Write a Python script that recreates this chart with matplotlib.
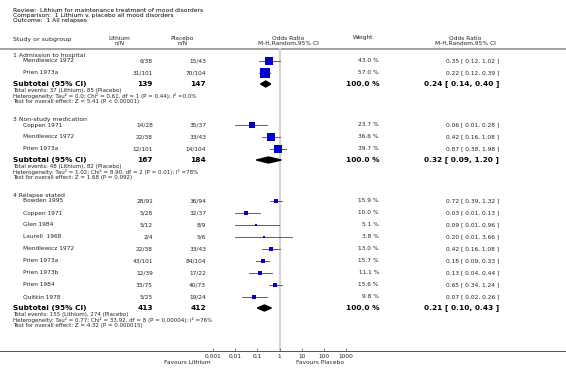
import numpy as np
import matplotlib
matplotlib.use("Agg")
import matplotlib.pyplot as plt
from matplotlib.patches import Polygon

# ==============================================================================
# Data
# ==============================================================================
title_lines = [
    "Review:  Lithium for maintenance treatment of mood disorders",
    "Comparison:  1 Lithium v. placebo all mood disorders",
    "Outcome:  1 All relapses",
]

group_names = ["1 Admission to hospital", "3 Non-study medication", "4 Relapse stated"]

study_names = ["Mendlewicz 1972", "Prien 1973a",
               "Coppen 1971", "Mendlewicz 1972", "Prien 1973a",
               "Bowden 1995", "Coppen 1971", "Glen 1984", "Laurell  1968",
               "Mendlewicz 1972", "Prien 1973a", "Prien 1973b", "Prien 1984",
               "Quitkin 1978"]
study_group = [0, 0, 1, 1, 1, 2, 2, 2, 2, 2, 2, 2, 2, 2]
lithium_nN = ["6/38", "31/101", "14/28", "22/38", "12/101", "28/91", "5/28",
              "5/12", "2/4", "22/38", "43/101", "12/39", "33/75", "5/25"]
placebo_nN = ["15/43", "70/104", "35/37", "33/43", "14/104", "36/94", "32/37",
              "8/9", "5/6", "33/43", "84/104", "17/22", "40/73", "19/24"]
weight = [43.0, 57.0, 23.7, 36.6, 39.7, 15.9, 10.0, 5.1, 3.8, 13.0, 15.7, 11.1, 15.6, 9.8]
odds = [0.35, 0.22, 0.06, 0.42, 0.87, 0.72, 0.03, 0.09, 0.20, 0.42, 0.18, 0.13, 0.65, 0.07]
ci_low = [0.12, 0.12, 0.01, 0.16, 0.38, 0.39, 0.01, 0.01, 0.01, 0.16, 0.09, 0.04, 0.34, 0.02]
ci_high = [1.02, 0.39, 0.28, 1.08, 1.98, 1.32, 0.13, 0.96, 3.66, 1.08, 0.33, 0.44, 1.24, 0.26]

sub_lithium_N = [139, 167, 413]
sub_placebo_N = [147, 184, 412]
sub_odds = [0.24, 0.32, 0.21]
sub_low = [0.14, 0.09, 0.10]
sub_high = [0.40, 1.20, 0.43]
sub_events = ["Total events: 37 (Lithium), 85 (Placebo)",
              "Total events: 48 (Lithium), 82 (Placebo)",
              "Total events: 155 (Lithium), 274 (Placebo)"]
sub_het = ["Heterogeneity: Tau\u00b2 = 0.0; Chi\u00b2 = 0.61, df = 1 (P = 0.44); I\u00b2 =0.0%",
           "Heterogeneity: Tau\u00b2 = 1.02; Chi\u00b2 = 8.90, df = 2 (P = 0.01); I\u00b2 =78%",
           "Heterogeneity: Tau\u00b2 = 0.77; Chi\u00b2 = 33.92, df = 8 (P = 0.00004); I\u00b2 =76%"]
sub_test = ["Test for overall effect: Z = 5.41 (P < 0.00001)",
            "Test for overall effect: Z = 1.68 (P = 0.092)",
            "Test for overall effect: Z = 4.32 (P = 0.000015)"]

axis_ticks = [0.001, 0.01, 0.1, 1, 10, 100, 1000]
axis_labels = ["0.001", "0.01", "0.1", "1", "10", "100", "1000"]

# ==============================================================================
# Layout (pixels)
# ==============================================================================
W, H = 566, 381
X_LEFT, X_STUDY = 13, 23
X_LITH, X_PLAC = 153, 206
X_WEIGHT, X_OR = 379, 499
PLOT_L, PLOT_R = 213, 346
AXIS_Y = 351
FS, FS_B, FS_NOTE = 4.2, 5.3, 4.0
TXT = "#222222"
BLUE = "#0000cc"

plt.rcParams["font.family"] = ["DejaVu Sans"]
fig = plt.figure(figsize=(W / 100, H / 100), dpi=100)
bg = fig.add_axes([0, 0, 1, 1])
bg.set_xlim(0, W)
bg.set_ylim(H, 0)
bg.axis("off")

ax = fig.add_axes([PLOT_L / W, (H - AXIS_Y) / H, (PLOT_R - PLOT_L) / W, AXIS_Y / H])
ax.set_xscale("log")
ax.set_xlim(0.001, 1000)
ax.set_ylim(AXIS_Y, 0)
ax.patch.set_alpha(0)
for s in ["top", "left", "right", "bottom"]:
    ax.spines[s].set_visible(False)
ax.set_yticks([])
ax.set_xticks(axis_ticks)
ax.set_xticklabels(axis_labels, fontsize=FS, color=TXT)
ax.xaxis.set_minor_locator(matplotlib.ticker.NullLocator())
ax.tick_params(axis="x", direction="in", length=2, width=0.5, pad=2, color="#555555")

# titles
for i, line in enumerate(title_lines):
    bg.text(X_LEFT, 10.5 + i * 5, line, fontsize=4.3, va="center", ha="left", color="black")

# column headers
bg.text(X_LEFT, 39.5, "Study or subgroup", fontsize=4.5, va="center", color=TXT)
for xc, top in [(119, "Lithium"), (182, "Placebo")]:
    bg.text(xc, 38, top, fontsize=FS, va="center", ha="center", color=TXT)
    bg.text(xc + 1, 43, "n/N", fontsize=FS, va="center", ha="center", color=TXT)
for xc in [288, 465]:
    bg.text(xc, 38, "Odds Ratio", fontsize=FS, va="center", ha="center", color=TXT)
    bg.text(xc, 43, "M-H,Random,95% CI", fontsize=FS, va="center", ha="center", color=TXT)
bg.text(363, 38, "Weight", fontsize=FS, va="center", ha="center", color=TXT)
bg.plot([0, W], [49, 49], color="#9a9a9a", lw=1.3)

# no-effect line and axis line
ax.plot([1, 1], [49, AXIS_Y], color="#d4d4d4", lw=1.6, zorder=0)
bg.plot([0, W], [AXIS_Y, AXIS_Y], color="#555555", lw=0.7)

# rows
y = 55
for g, gname in enumerate(group_names):
    bg.text(X_LEFT, y, gname, fontsize=FS + 0.2, va="center", color=TXT)
    y += 6
    idx = [i for i, sg in enumerate(study_group) if sg == g]
    for k, i in enumerate(idx):
        if k > 0:
            y += 12
        bg.text(X_STUDY, y, study_names[i], fontsize=FS, va="center", color=TXT)
        bg.text(X_LITH, y, lithium_nN[i], fontsize=FS, va="center", ha="right", color=TXT)
        bg.text(X_PLAC, y, placebo_nN[i], fontsize=FS, va="center", ha="right", color=TXT)
        bg.text(X_WEIGHT, y, f"{weight[i]:.1f} %", fontsize=FS, va="center", ha="right", color=TXT)
        bg.text(X_OR, y, f"{odds[i]:.2f} [ {ci_low[i]:.2f}, {ci_high[i]:.2f} ]",
                fontsize=FS, va="center", ha="right", color=TXT)
        ax.plot([ci_low[i], ci_high[i]], [y, y], color="#444444", lw=0.6, zorder=2)
        side = 1.25 * np.sqrt(weight[i])
        ax.plot(odds[i], y, marker="s", markersize=side * 0.72, color=BLUE,
                markeredgewidth=0, zorder=3)
    y += 11
    bg.text(X_LEFT, y, "Subtotal (95% CI)", fontsize=FS_B, fontweight="bold", va="center", color="black")
    bg.text(X_LITH, y, str(sub_lithium_N[g]), fontsize=FS_B, fontweight="bold", va="center", ha="right")
    bg.text(X_PLAC, y, str(sub_placebo_N[g]), fontsize=FS_B, fontweight="bold", va="center", ha="right")
    bg.text(X_WEIGHT, y, "100.0 %", fontsize=FS_B, fontweight="bold", va="center", ha="right")
    bg.text(X_OR, y, f"{sub_odds[g]:.2f} [ {sub_low[g]:.2f}, {sub_high[g]:.2f} ]",
            fontsize=FS_B, fontweight="bold", va="center", ha="right")
    diamond = Polygon([[sub_low[g], y], [sub_odds[g], y - 3], [sub_high[g], y],
                       [sub_odds[g], y + 3]], closed=True, color="black", zorder=3)
    ax.add_patch(diamond)
    y += 6.5
    bg.text(X_LEFT, y, sub_events[g], fontsize=FS_NOTE, va="center", color=TXT)
    y += 5.5
    bg.text(X_LEFT, y, sub_het[g], fontsize=FS_NOTE, va="center", color=TXT)
    y += 5.5
    bg.text(X_LEFT, y, sub_test[g], fontsize=FS_NOTE, va="center", color=TXT)
    y += 17.5

bg.text(187, 363, "Favours Lithium", fontsize=FS, va="center", ha="center", color=TXT)
bg.text(320, 363, "Favours Placebo", fontsize=FS, va="center", ha="center", color=TXT)

fig.savefig("out.png", dpi=100)
